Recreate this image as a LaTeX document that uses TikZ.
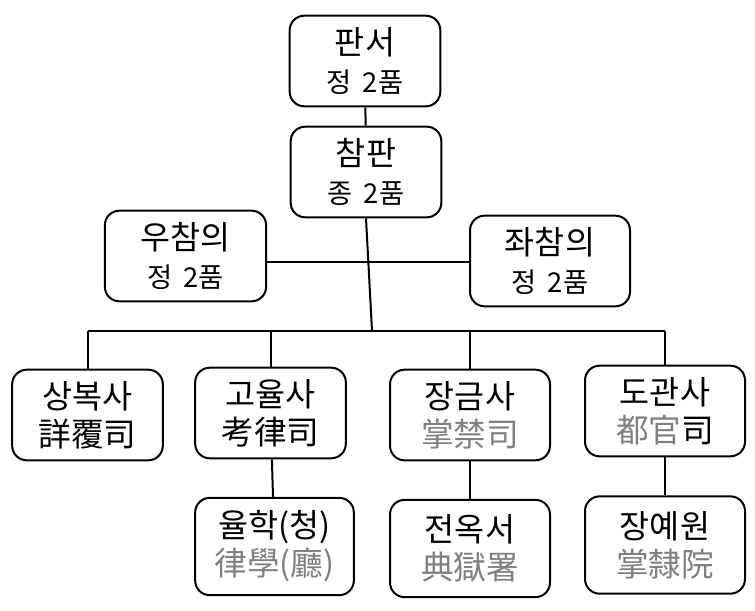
\documentclass[tikz,border=0pt]{standalone}
\usepackage{fontspec}
\newfontfamily\kr{Noto Sans CJK KR}
\definecolor{hanja}{RGB}{128,128,128}
\tikzset{
  office/.style={draw, line width=1.5pt, rounded corners=11pt, align=center,
    inner sep=0pt, minimum width=113pt, minimum height=68pt,
    font=\kr\fontsize{24.5}{28.5}\selectfont},
  link/.style={line width=1.5pt},
}
\newcommand{\rank}[1]{{\fontsize{20.5}{26}\selectfont #1}}
\newcommand{\hj}[1]{\textcolor{hanja}{#1}}
\begin{document}
\begin{tikzpicture}[x=0.75pt,y=-0.75pt]
	\path[use as bounding box] (0,0) rectangle (755,610);
	% top of the office
	\node[office] (panseo) at (365,61) {판서\\\rank{정\kern0.4em 2품}};
	\node[office] (champan) at (366,172) {참판\\\rank{종\kern0.4em 2품}};
	\node[office, minimum width=121pt] (ucham) at (185.5,256) {우참의\\\rank{정\kern0.4em 2품}};
	\node[office, minimum width=120pt] (jwacham) at (550,261) {좌참의\\\rank{정\kern0.4em 2품}};
	
	% the four bureaux
	\node[office] (sangbok) at (87.5,415) {상복사\\詳覆司};
	\node[office] (goyul) at (270.5,413) {고율사\\考律司};
	\node[office, minimum width=120pt] (janggeum) at (470,415) {장금사\\\hj{掌禁司}};
	\node[office, minimum width=120pt] (dogwan) at (665,411) {도관사\\\hj{都官}司};
	
	% offices under the bureaux
	\node[office, minimum width=119pt, minimum height=73pt] (yulhak) at (274.5,546.5) {율학(청)\\\hj{律學(廳)}};
	\node[office, minimum width=120pt, minimum height=73pt] (jeonok) at (470,548.5) {전옥서\\\hj{典獄署}};
	\node[office, minimum width=120pt, minimum height=73pt] (jangye) at (665,545) {장예원\\\hj{掌隸院}};
	
	\coordinate (bus) at (372,331);
	\draw[link] (panseo) -- (champan);
	\draw[link] (ucham.east |- 0,262) -- (jwacham.west |- 0,262);
	\draw[link] (champan.south) -- (bus);
	\draw[link] (sangbok.north |- bus) -- (dogwan.north |- bus);
	\foreach \n in {sangbok,goyul,janggeum,dogwan}
		\draw[link] (\n.north |- bus) -- (\n.north);
	\draw[link] (goyul) -- (yulhak);
	\draw[link] (janggeum) -- (jeonok);
	\draw[link] (dogwan) -- (jangye);
	
\end{tikzpicture}
\end{document}
